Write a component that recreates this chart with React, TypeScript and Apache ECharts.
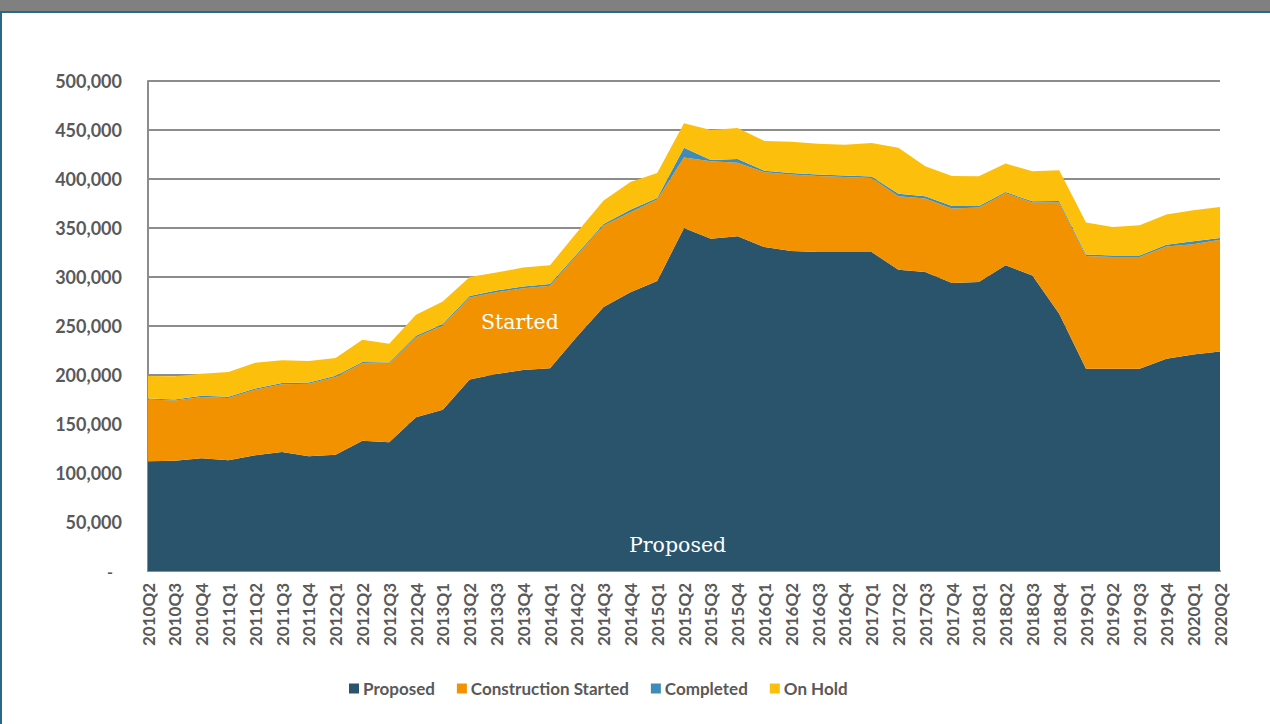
import React, { useEffect, useRef } from "react";
import * as echarts from "echarts";

const categories = [
  "2010Q2","2010Q3","2010Q4","2011Q1","2011Q2","2011Q3","2011Q4","2012Q1","2012Q2","2012Q3","2012Q4",
  "2013Q1","2013Q2","2013Q3","2013Q4","2014Q1","2014Q2","2014Q3","2014Q4","2015Q1","2015Q2","2015Q3",
  "2015Q4","2016Q1","2016Q2","2016Q3","2016Q4","2017Q1","2017Q2","2017Q3","2017Q4","2018Q1","2018Q2",
  "2018Q3","2018Q4","2019Q1","2019Q2","2019Q3","2019Q4","2020Q1","2020Q2",
];

const proposed = [
  112000,112500,115000,113000,118000,121500,117000,118500,133000,131500,157000,
  164500,195500,201000,205000,207000,239000,269500,284500,296000,350000,339000,
  341500,330500,326500,325500,325500,325500,307500,305000,294000,295000,312000,
  301500,262500,206500,206500,206500,216500,221000,224000,
];

const constructionStarted = [
  63000,61500,62500,63500,67000,69000,74000,79500,79000,80000,81500,
  86000,83500,83500,83500,84000,83000,83000,81500,83000,72000,79000,
  75000,76500,78000,77500,76500,75500,75000,75000,76000,76000,73500,
  74500,113500,115000,114000,114000,114500,112500,114000,
];

const completed = [
  1000,1000,1200,1200,1300,1300,1300,1300,1300,1300,1500,
  1500,1500,1800,1800,1800,1500,1500,2500,1500,10000,1500,
  4000,1500,1500,1500,1500,1500,2500,2300,2500,1500,1200,
  1200,1500,1500,1500,1500,2000,2900,1800,
];

const onHold = [
  23000,23700,22700,25300,26300,23200,22000,18100,22700,19200,21600,
  23000,19500,18200,19300,19200,22000,24000,28500,25500,25000,30500,
  31500,30300,32000,31500,31500,34200,47000,30700,30500,30200,29000,
  30700,31400,32500,29000,30800,30700,31600,31600,
];

const seriesNames = ["Proposed", "Construction Started", "Completed", "On Hold"];
const seriesColors = ["#29546B", "#F39200", "#3F8BBA", "#FCC00C"];
const seriesData = [proposed, constructionStarted, completed, onHold];

export default function App() {
  const ref = useRef<HTMLDivElement>(null);
  useEffect(() => {
    if (!ref.current) return;
    const chart = echarts.init(ref.current, null, { renderer: "svg" });
    const labelFont = "Lato, 'Open Sans', sans-serif";
    const serif = "20.5px 'DejaVu Serif', 'Liberation Serif', serif";
    chart.setOption({
      animation: false,
      backgroundColor: "#ffffff",
      graphic: [
        { type: "rect", left: 0, top: 0, shape: { width: 1270, height: 11 }, style: { fill: "#808080" }, z: 10 },
        { type: "rect", left: 0, top: 11, shape: { width: 1270, height: 2 }, style: { fill: "#2B6786" }, z: 10 },
        { type: "rect", left: 0, top: 11, shape: { width: 2, height: 713 }, style: { fill: "#2B6786" }, z: 10 },
        {
          type: "text", left: 481, top: 311, z: 20,
          style: { text: "Started", fill: "#ffffff", font: serif },
        },
        {
          type: "text", left: 629, top: 534, z: 20,
          style: { text: "Proposed", fill: "#ffffff", font: serif },
        },
      ],
      grid: { left: 148, right: 50, top: 81, bottom: 153, containLabel: false },
      legend: {
        bottom: 22,
        left: 344,
        itemGap: 22,
        itemWidth: 10,
        itemHeight: 10,
        icon: "rect",
        textStyle: { color: "#595959", fontSize: 17, fontWeight: "bold", fontFamily: labelFont, padding: [0, 0, 0, -1] },
        data: seriesNames,
      },
      xAxis: {
        type: "category",
        data: categories,
        boundaryGap: false,
        axisLine: { show: true, lineStyle: { color: "#8C8C8C", width: 2 } },
        axisTick: { show: false },
        axisLabel: {
          rotate: 90,
          interval: 0,
          margin: 12,
          color: "#595959",
          fontSize: 17,
          fontWeight: "bold",
          fontFamily: labelFont,
        },
      },
      yAxis: {
        type: "value",
        min: 0,
        max: 500000,
        interval: 50000,
        axisLine: { show: true, lineStyle: { color: "#8C8C8C", width: 2 } },
        axisTick: { show: false },
        splitLine: { show: true, lineStyle: { color: "#8C8C8C", width: 2 } },
        axisLabel: {
          margin: 26,
          color: "#595959",
          fontSize: 18,
          fontWeight: "bold",
          fontFamily: labelFont,
          formatter: (v: number) => (v === 0 ? "{d|-}" : v.toLocaleString("en-US")),
          rich: { d: { color: "#595959", fontSize: 16, fontWeight: "bold", fontFamily: labelFont, padding: [0, 9, 0, 0] } },
        },
      },
      series: seriesNames.map((name, i) => ({
        name,
        type: "line",
        stack: "total",
        data: seriesData[i],
        symbol: "none",
        smooth: false,
        lineStyle: { width: 0 },
        itemStyle: { color: seriesColors[i] },
        areaStyle: { color: seriesColors[i], opacity: 1 },
        z: 2,
      })),
    });
    return () => chart.dispose();
  }, []);
  return (
    <div
      ref={ref}
      style={{ position: "fixed", left: 0, top: 0, width: 1270, height: 724 }}
    />
  );
}
